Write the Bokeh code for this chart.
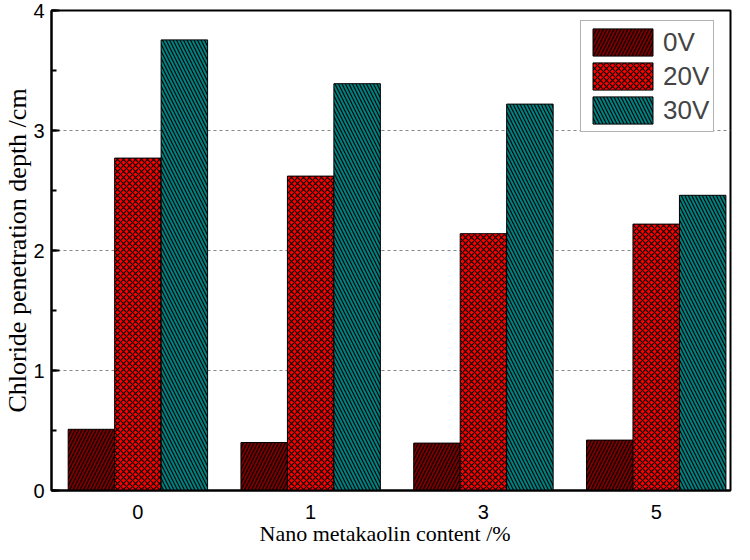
import numpy as np
from bokeh.plotting import figure
from bokeh.models import (Range1d, FixedTicker, SingleIntervalTicker, Legend,
                          LegendItem, ColumnDataSource, Title)
from bokeh.transform import dodge
from bokeh.embed import file_html
from bokeh.resources import INLINE

# ---- data ----
categories = ["0", "1", "3", "5"]
series_names = ["0V", "20V", "30V"]
v0 = [0.51, 0.40, 0.395, 0.42]
v20 = [2.77, 2.62, 2.14, 2.22]
v30 = [3.755, 3.39, 3.22, 2.46]
y_ticks = [0, 1, 2, 3, 4]
x_title = "Nano metakaolin content  /%"
y_title = "Chloride penetration depth /cm"

fills = ["#7a0000", "#ff0000", "#008080"]
hatches = ["/", "x", "\\"]
hatch_scales = [7, 6, 7]

src = ColumnDataSource(dict(x=list(range(len(categories))), v0=v0, v20=v20, v30=v30))

p = figure(width=734, height=544, x_range=Range1d(-0.5, 3.43), y_range=Range1d(0, 4),
           output_backend="svg", toolbar_location=None,
           min_border_left=46, min_border_right=4, min_border_top=10, min_border_bottom=54)

bw = 0.269
offsets = [-bw, 0.0, bw]
cols = ["v0", "v20", "v30"]
renderers = []
for i, c in enumerate(cols):
    r = p.vbar(x=dodge("x", offsets[i], range=p.x_range), top=c, width=bw, bottom=0,
               source=src, fill_color=fills[i], line_color="black", line_width=1,
               hatch_pattern=hatches[i], hatch_color="black", hatch_scale=hatch_scales[i],
               hatch_weight=1.1)
    renderers.append(r)

# axes
p.xaxis.ticker = FixedTicker(ticks=list(range(len(categories))))
p.xaxis.major_label_overrides = {i: c for i, c in enumerate(categories)}
p.xaxis.major_tick_line_color = None
p.xaxis.minor_tick_line_color = None
p.yaxis.axis_label = y_title
p.yaxis.ticker = SingleIntervalTicker(interval=1, num_minor_ticks=2)
p.yaxis.major_tick_in = 8
p.yaxis.major_tick_out = 0
p.yaxis.minor_tick_in = 5
p.yaxis.minor_tick_out = 0
p.yaxis.major_tick_line_width = 2
p.yaxis.minor_tick_line_width = 2
for ax in (p.xaxis[0], p.yaxis[0]):
    ax.axis_line_width = 2
    ax.axis_line_color = "black"
    ax.major_label_text_font = "Liberation Sans"
    ax.major_label_text_font_size = "20px"
    ax.major_label_text_color = "black"
    ax.axis_label_text_font = "Liberation Serif"
    ax.axis_label_text_font_style = "normal"
    ax.axis_label_text_color = "black"
p.yaxis.axis_label_text_font_size = "26px"
p.xaxis.major_label_standoff = 8
p.yaxis.major_label_standoff = 7
p.yaxis.axis_label_standoff = -2

# x-axis title as a title panel below the axis
p.add_layout(Title(text=x_title, align="left", offset=208, standoff=-6,
                   text_font="Liberation Serif", text_font_size="22px",
                   text_font_style="normal", text_color="black"), "below")

p.outline_line_color = "black"
p.outline_line_width = 2
p.outline_line_alpha = 1

p.xgrid.grid_line_color = None
p.ygrid.ticker = FixedTicker(ticks=y_ticks[1:-1])
p.ygrid.grid_line_color = "#888888"
p.ygrid.grid_line_dash = "3 3"
p.ygrid.grid_line_width = 1

legend = Legend(items=[LegendItem(label=series_names[i], renderers=[renderers[i]]) for i in range(3)],
                location=(529, 358), margin=0, padding=4, spacing=-2,
                glyph_width=75, glyph_height=34, label_standoff=3,
                label_text_font="Liberation Sans", label_text_font_size="26px",
                border_line_color="#666666", border_line_width=1.5,
                background_fill_color="white", background_fill_alpha=1)
p.add_layout(legend)

open("out.html", "w").write(file_html(p, INLINE))
